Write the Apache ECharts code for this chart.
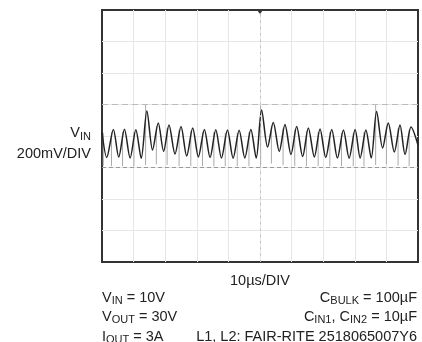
<!DOCTYPE html>
<html>
<head>
<meta charset="utf-8">
<script src="https://cdn.jsdelivr.net/npm/echarts@6/dist/echarts.min.js"></script>
<style>
  html, body { margin: 0; padding: 0; background: #fff; }
  #chart { width: 422px; height: 342px; }
</style>
</head>
<body>
<div id="chart"></div>
<script>
// V_IN ripple, black trace: vertices (µs, mV)
const vinTimeUs = [0, 1.5, 3.6, 5.3, 7.1, 8.9, 10.7, 12.4, 14.2, 16.0, 17.8, 19.5, 21.2, 23.1,
    25.0, 26.8, 28.7, 30.5, 32.4, 34.2, 36.0, 37.8, 39.7, 41.5, 43.4, 45.2, 47.1, 48.8,
    50.5, 52.4, 54.2, 56.1, 57.9, 59.8, 61.6, 63.5, 65.3, 67.2, 69.0, 70.8, 72.7, 74.5,
    76.4, 78.2, 80.1, 81.7, 83.5, 85.2, 86.9, 88.8, 90.6, 92.5, 94.3, 95.9, 97.8, 100];
const vinMv = [27, -136, 41, -134, 43, -140, 40, -141, 159, -89, 83, -98, 70, -114,
    60, -127, 51, -133, 42, -137, 40, -140, 38, -141, 37, -139, 41, -140,
    165, -70, 86, -98, 73, -117, 60, -130, 51, -133, 44, -137, 41, -140,
    38, -141, 41, -139, 38, -140, 156, -76, 83, -102, 70, -117, 57, -57];

// lighter trace: switching spikes (µs, top mV, bottom mV)
const spikeTimeUs = [0.4, 3.0, 6.5, 10.1, 13.8, 17.2, 20.6, 24.4, 28.1, 31.8, 35.4, 39.0, 42.8, 46.5,
    50.2, 53.6, 57.3, 61.0, 64.7, 68.4, 72.1, 75.8, 79.5, 82.9, 86.6, 90.0, 93.7, 97.2];
const spikeTopMv = [20, 25, 25, 25, 200, 60, 50, 40, 30, 25, 25, 20, 20, 25,
    195, 65, 50, 40, 30, 25, 25, 20, 20, 25, 200, 60, 50, 40];
const spikeBottomMv = [-190, -192, -192, -192, -185, -180, -185, -190, -192, -192, -192, -192, -192, -192,
    -185, -175, -185, -190, -192, -192, -192, -192, -192, -192, -185, -180, -188, -192];

const refLevelsMv = [200, -200];

const chart = echarts.init(document.getElementById('chart'), null, { renderer: 'canvas' });

const vinData = vinTimeUs.map((t, i) => [t, vinMv[i]]);
const spikeData = [];
spikeTimeUs.forEach((t, i) => {
    spikeData.push([t, spikeTopMv[i]], [t, spikeBottomMv[i]], [t, '-']);
});

const FONT = '"Liberation Sans", Arial, sans-serif';
const TEXT = '#222';
const rich = {
    m: { fontSize: 14.5, fontFamily: FONT, color: TEXT, lineHeight: 18, verticalAlign: 'middle' },
    s: { fontSize: 11, fontFamily: FONT, color: TEXT, lineHeight: 9, verticalAlign: 'bottom' },
};

function label(text, x, y, align) {
    return {
        type: 'text',
        x: x,
        y: y,
        silent: true,
        style: {
            text: text,
            rich: rich,
            align: align,
            verticalAlign: 'middle',
            font: '14.5px ' + FONT,
            fill: TEXT,
        },
    };
}

const gridLine = { lineStyle: { color: '#e6e6e6', width: 1 }, showMinLine: false, showMaxLine: false };

chart.setOption({
    animation: false,
    backgroundColor: '#fff',
    grid: {
        left: 102, top: 10, width: 316, height: 252,
        show: true, borderColor: '#333', borderWidth: 2, backgroundColor: 'transparent',
    },
    xAxis: {
        type: 'value', min: 0, max: 100, interval: 10,
        axisLine: { show: false }, axisTick: { show: false }, axisLabel: { show: false },
        splitLine: gridLine,
    },
    yAxis: {
        type: 'value', min: -800, max: 800, interval: 200,
        axisLine: { show: false }, axisTick: { show: false }, axisLabel: { show: false },
        splitLine: gridLine,
    },
    series: [
        {
            type: 'line',
            data: [],
            z: 1,
            markLine: {
                silent: true,
                symbol: 'none',
                label: { show: false },
                data: [
                    { xAxis: 50, lineStyle: { color: '#bdbdbd', width: 1, type: [2, 4.3] } },
                    { yAxis: refLevelsMv[0], lineStyle: { color: '#bbb', width: 1.2, type: [6, 4] } },
                    { yAxis: refLevelsMv[1], lineStyle: { color: '#999', width: 1.2, type: [4, 3] } },
                ],
            },
            markPoint: {
                silent: true,
                symbol: 'triangle',
                symbolRotate: 180,
                symbolSize: [6, 4],
                symbolOffset: [0, 2],
                itemStyle: { color: '#333' },
                label: { show: false },
                data: [{ coord: [50, 800] }],
            },
        },
        {
            name: 'spikes',
            type: 'line',
            data: spikeData,
            z: 2,
            showSymbol: false,
            connectNulls: false,
            lineStyle: { color: '#aaa', width: 1 },
        },
        {
            name: 'VIN',
            type: 'line',
            data: vinData,
            z: 3,
            showSymbol: false,
            smooth: 0.3,
            lineStyle: { color: '#222', width: 1.5 },
        },
    ],
    graphic: [
        label('{m|V}{s|IN}', 91, 133, 'right'),
        label('{m|200mV/DIV}', 91, 154, 'right'),
        label('{m|10µs/DIV}', 260, 281, 'center'),
        label('{m|V}{s|IN}{m| = 10V}', 102, 297.5, 'left'),
        label('{m|C}{s|BULK}{m| = 100µF}', 417, 297.5, 'right'),
        label('{m|V}{s|OUT}{m| = 30V}', 102, 316.5, 'left'),
        label('{m|C}{s|IN1}{m|, C}{s|IN2}{m| = 10µF}', 417, 316.5, 'right'),
        label('{m|I}{s|OUT}{m| = 3A}', 102, 336.5, 'left'),
        label('{m|L1, L2: FAIR-RITE 2518065007Y6}', 417, 336.5, 'right'),
    ],
});

window.addEventListener('resize', () => chart.resize());
</script>
</body>
</html>
